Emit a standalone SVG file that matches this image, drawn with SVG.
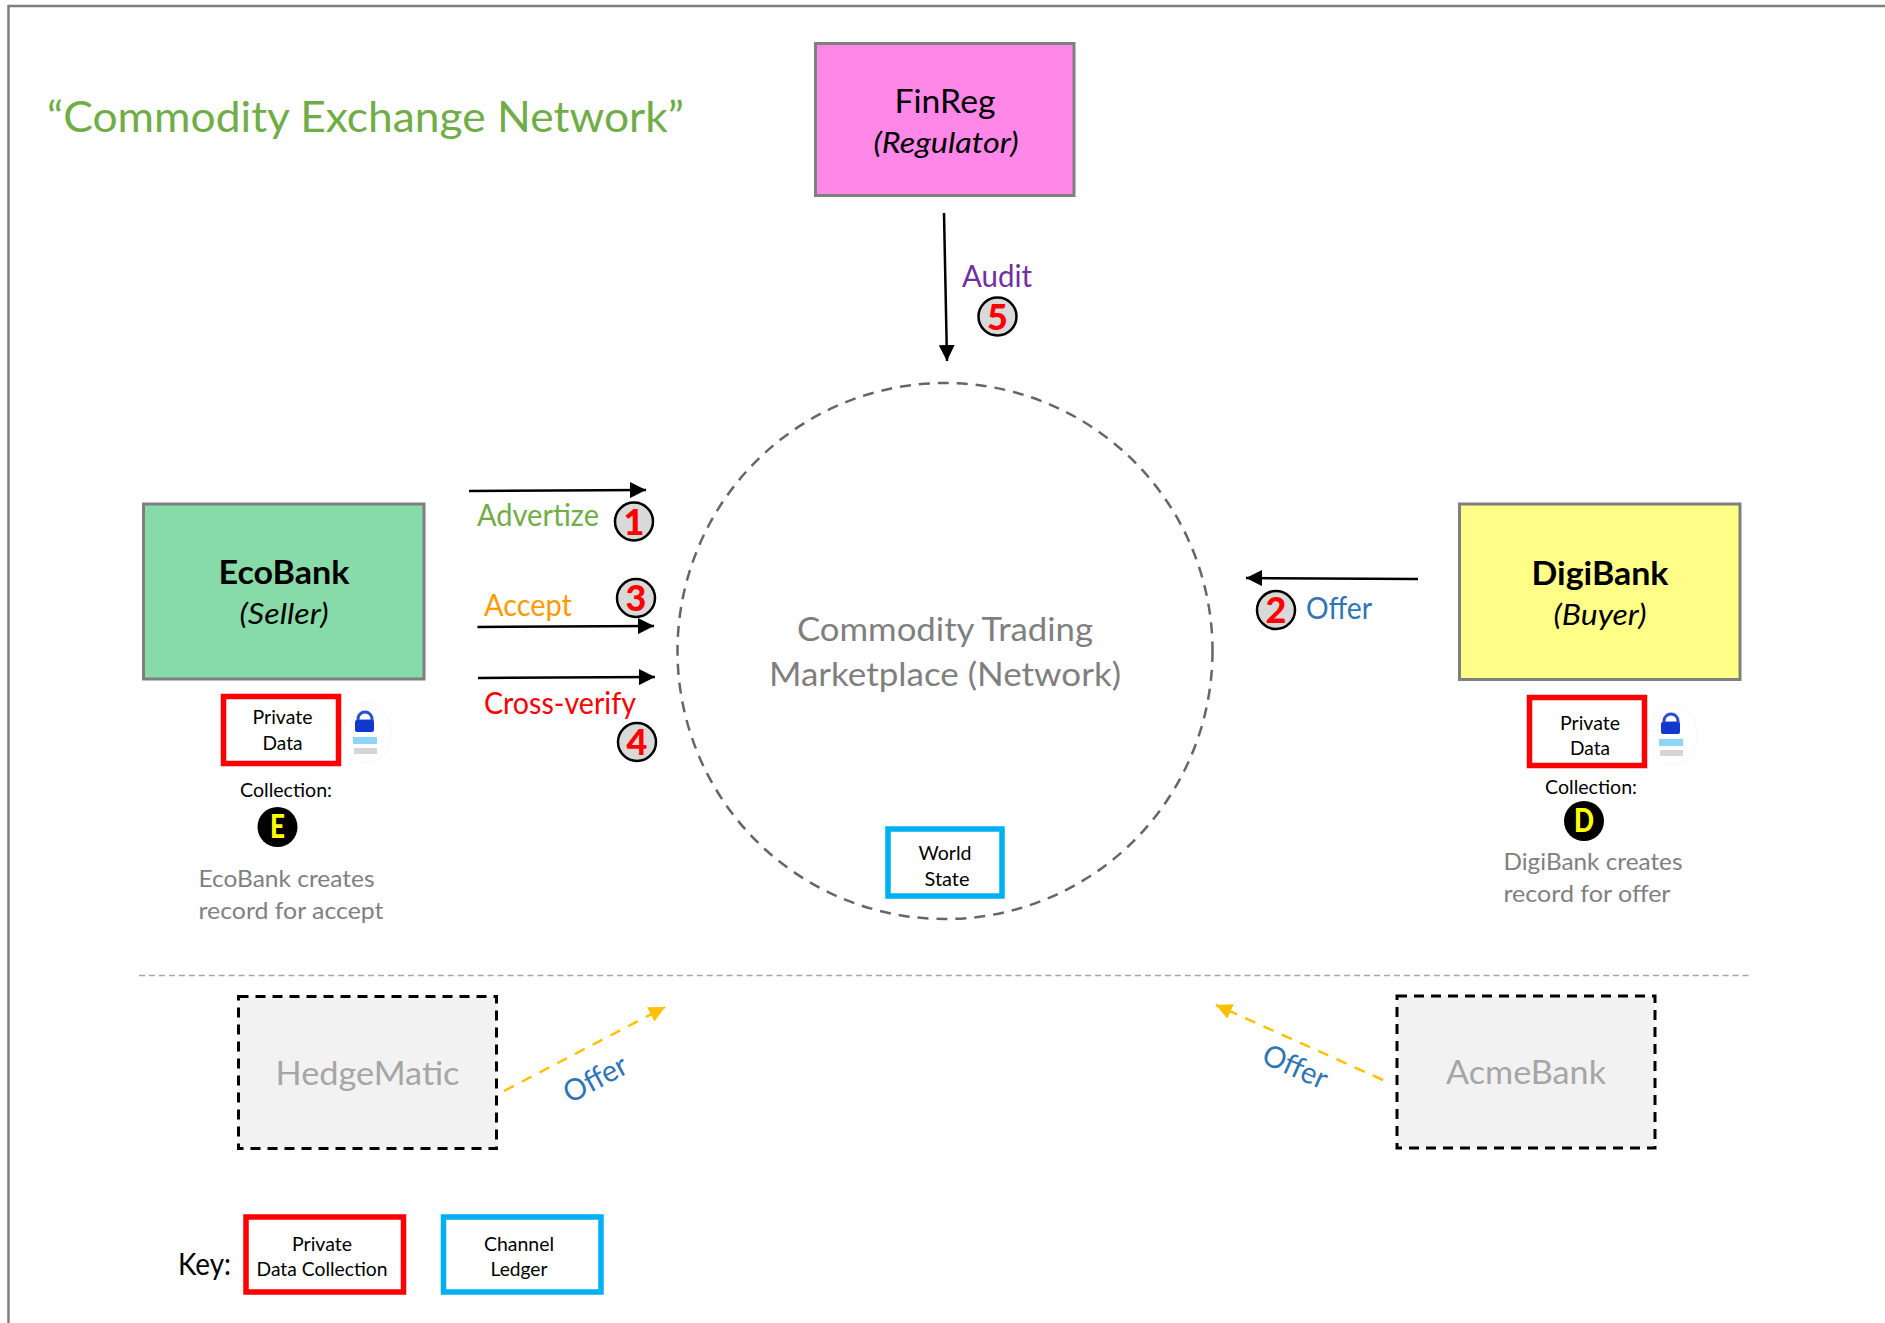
<svg xmlns="http://www.w3.org/2000/svg" width="1885" height="1323" viewBox="0 0 1885 1323">
<style>
text{font-family:Lato,"Open Sans",sans-serif;text-anchor:middle}
.l{text-anchor:start}
.box{stroke:#7f7f7f;stroke-width:3}
.red{fill:#fff;stroke:#f00;stroke-width:5.500}
.blue{fill:#fff;stroke:#00b0f0;stroke-width:5.500}
.dash{fill:#f2f2f2;stroke:#000;stroke-width:3;stroke-dasharray:10 7}
.sm{font-size:19px;fill:#000}
.big{font-size:32px;fill:#000}
.it{font-size:28px;font-style:italic;fill:#000}
.lab{font-size:30px}
.note{font-size:24px;fill:#7f7f7f}
.num{fill:#d9d9d9;stroke:#000;stroke-width:2.500}
.n{font-size:36px;font-weight:900;fill:#f00}
.k{font-size:33px;font-weight:900;fill:#ff0}
.ln{fill:none;stroke:#000;stroke-width:2.500}
.off{fill:none;stroke:#ffc000;stroke-width:2.500;stroke-dasharray:11 9}
</style>
<defs>
<marker id="a" markerUnits="userSpaceOnUse" markerWidth="16" markerHeight="16" refX="16" refY="8" orient="auto"><path d="M0 0L16 8L0 16z" fill="#000"/></marker>
<marker id="y" markerUnits="userSpaceOnUse" markerWidth="16" markerHeight="16" refX="16" refY="8" orient="auto"><path d="M0 0L16 8L0 16z" fill="#ffc000"/></marker>
<g id="lock">
<ellipse cx="14" cy="20" rx="24" ry="30" fill="none" stroke="#eeeeee" stroke-width="1" stroke-dasharray="2 2"/>
<path d="M5 6a7 7 0 0 1 14 0v2H5z" fill="none" stroke="#2a4fd0" stroke-width="3"/>
<rect x="2" y="7" width="19" height="12" rx="2" fill="#1338cf"/>
<rect y="24" width="24" height="7" fill="#90d5f8"/>
<rect x="1" y="35" width="23" height="6" fill="#d5d5d5"/>
</g>
</defs>
<path d="M8.500 1323V6H1885" fill="none" stroke="#7f7f7f" stroke-width="2.500"/>
<text id="title" class="l" x="47" y="132" font-size="43" fill="#70ad47" textLength="637" lengthAdjust="spacingAndGlyphs">“Commodity Exchange Network”</text>
<g id="network">
<ellipse cx="945" cy="651" rx="267.500" ry="268" fill="none" stroke="#666" stroke-width="2.500" stroke-dasharray="11 8"/>
<text x="945" y="641" font-size="33" fill="#7f7f7f" textLength="296" lengthAdjust="spacingAndGlyphs">Commodity Trading</text>
<text x="945" y="686" font-size="33" fill="#7f7f7f" textLength="352" lengthAdjust="spacingAndGlyphs">Marketplace (Network)</text>
</g>
<g id="world-state">
<rect class="blue" x="888" y="829" width="114" height="67"/>
<text class="sm" x="945" y="860" textLength="53" lengthAdjust="spacingAndGlyphs">World</text>
<text class="sm" x="947" y="886" textLength="45" lengthAdjust="spacingAndGlyphs">State</text>
</g>
<g id="finreg">
<rect class="box" x="815.500" y="43.500" width="258.500" height="152" fill="#ff87e7"/>
<text class="big" x="945" y="113" textLength="101" lengthAdjust="spacingAndGlyphs">FinReg</text>
<text class="it" x="946" y="153" textLength="145" lengthAdjust="spacingAndGlyphs">(Regulator)</text>
</g>
<g id="ecobank">
<rect class="box" x="143.500" y="504" width="280.500" height="175" fill="#87dba8"/>
<text class="big" x="284" y="584" font-weight="700" textLength="131" lengthAdjust="spacingAndGlyphs">EcoBank</text>
<text class="it" x="284" y="624" textLength="89" lengthAdjust="spacingAndGlyphs">(Seller)</text>
</g>
<g id="ecobank-pdc">
<rect class="red" x="223.500" y="696.500" width="115" height="67"/>
<text class="sm" x="282.500" y="724" textLength="60" lengthAdjust="spacingAndGlyphs">Private</text>
<text class="sm" x="282.500" y="750" textLength="40" lengthAdjust="spacingAndGlyphs">Data</text>
<use href="#lock" x="353" y="713"/>
<text class="sm" x="286" y="797" textLength="92" lengthAdjust="spacingAndGlyphs">Collection:</text>
<circle cx="277.500" cy="827" r="20"/>
<text class="k" x="277.500" y="838" textLength="15" lengthAdjust="spacingAndGlyphs">E</text>
<text class="note l" x="198.500" y="887" textLength="176" lengthAdjust="spacingAndGlyphs">EcoBank creates</text>
<text class="note l" x="198.500" y="919" textLength="185" lengthAdjust="spacingAndGlyphs">record for accept</text>
</g>
<g id="digibank">
<rect class="box" x="1459.500" y="504" width="280.500" height="175.500" fill="#ffff87"/>
<text class="big" x="1600" y="585" font-weight="700" textLength="137" lengthAdjust="spacingAndGlyphs">DigiBank</text>
<text class="it" x="1600" y="625" textLength="93" lengthAdjust="spacingAndGlyphs">(Buyer)</text>
</g>
<g id="digibank-pdc">
<rect class="red" x="1529.500" y="697.500" width="115" height="68"/>
<text class="sm" x="1590" y="730" textLength="60" lengthAdjust="spacingAndGlyphs">Private</text>
<text class="sm" x="1590" y="755" textLength="40" lengthAdjust="spacingAndGlyphs">Data</text>
<use href="#lock" x="1659" y="715"/>
<text class="sm" x="1591" y="794" textLength="92" lengthAdjust="spacingAndGlyphs">Collection:</text>
<circle cx="1584" cy="821" r="20"/>
<text class="k" x="1584" y="832" textLength="20" lengthAdjust="spacingAndGlyphs">D</text>
<text class="note l" x="1503.500" y="870" textLength="179" lengthAdjust="spacingAndGlyphs">DigiBank creates</text>
<text class="note l" x="1503.500" y="902" textLength="167" lengthAdjust="spacingAndGlyphs">record for offer</text>
</g>
<g id="hedgematic">
<rect class="dash" x="238.500" y="996.500" width="258" height="152"/>
<text x="367.500" y="1085" font-size="33" fill="#a6a6a6" textLength="184" lengthAdjust="spacingAndGlyphs">HedgeMatic</text>
</g>
<g id="acmebank">
<rect class="dash" x="1397" y="996" width="258" height="152"/>
<text x="1526" y="1084" font-size="33" fill="#a6a6a6" textLength="160" lengthAdjust="spacingAndGlyphs">AcmeBank</text>
</g>
<g id="connectors">
<path class="ln" marker-end="url(#a)" d="M944 213L947 361"/>
<path class="ln" marker-end="url(#a)" d="M469 491L646 490"/>
<path class="ln" marker-end="url(#a)" d="M477.500 627L654 626"/>
<path class="ln" marker-end="url(#a)" d="M478 678L655 677"/>
<path class="ln" marker-end="url(#a)" d="M1418 579L1246 578"/>
<path class="off" marker-end="url(#y)" d="M504 1091L665 1007"/>
<path class="off" marker-end="url(#y)" d="M1383 1080L1216 1005"/>
<line x1="139" y1="975.500" x2="1749" y2="975.500" stroke="#a6a6a6" stroke-width="1.500" stroke-dasharray="6 3.96"/>
</g>
<g id="labels">
<text class="lab l" x="962" y="287" fill="#7030a0" textLength="70" lengthAdjust="spacingAndGlyphs">Audit</text>
<text class="lab l" x="477" y="526" fill="#70ad47" textLength="122" lengthAdjust="spacingAndGlyphs">Advertize</text>
<text class="lab l" x="484" y="616" fill="#ff9a00" textLength="88" lengthAdjust="spacingAndGlyphs">Accept</text>
<text class="lab l" x="484" y="714" fill="#f00" textLength="152" lengthAdjust="spacingAndGlyphs">Cross-verify</text>
<text class="lab l" x="1306" y="619" fill="#2e75b6" textLength="66" lengthAdjust="spacingAndGlyphs">Offer</text>
<text class="lab" transform="translate(600 1088) rotate(-28)" fill="#2e75b6" textLength="68" lengthAdjust="spacingAndGlyphs">Offer</text>
<text class="lab" transform="translate(1291 1076) rotate(24)" fill="#2e75b6" textLength="68" lengthAdjust="spacingAndGlyphs">Offer</text>
</g>
<g id="step-1"><circle class="num" cx="634" cy="521.500" r="19"/><text class="n" x="634" y="535">1</text></g>
<g id="step-2"><circle class="num" cx="1276" cy="610" r="19"/><text class="n" x="1276" y="623">2</text></g>
<g id="step-3"><circle class="num" cx="636" cy="598" r="19"/><text class="n" x="636" y="611">3</text></g>
<g id="step-4"><circle class="num" cx="637" cy="742" r="19"/><text class="n" x="637" y="755">4</text></g>
<g id="step-5"><circle class="num" cx="997.500" cy="316.500" r="19"/><text class="n" x="997.500" y="329.500">5</text></g>
<g id="key">
<text x="178" y="1275" class="l" font-size="30" fill="#000" textLength="53" lengthAdjust="spacingAndGlyphs">Key:</text>
<rect class="red" x="246" y="1217" width="157.500" height="75"/>
<text class="sm" x="322" y="1251" textLength="60" lengthAdjust="spacingAndGlyphs">Private</text>
<text class="sm" x="322" y="1276" textLength="131" lengthAdjust="spacingAndGlyphs">Data Collection</text>
<rect class="blue" x="443.500" y="1217" width="157.500" height="75"/>
<text class="sm" x="519" y="1251" textLength="70" lengthAdjust="spacingAndGlyphs">Channel</text>
<text class="sm" x="519" y="1276" textLength="57" lengthAdjust="spacingAndGlyphs">Ledger</text>
</g>
</svg>
